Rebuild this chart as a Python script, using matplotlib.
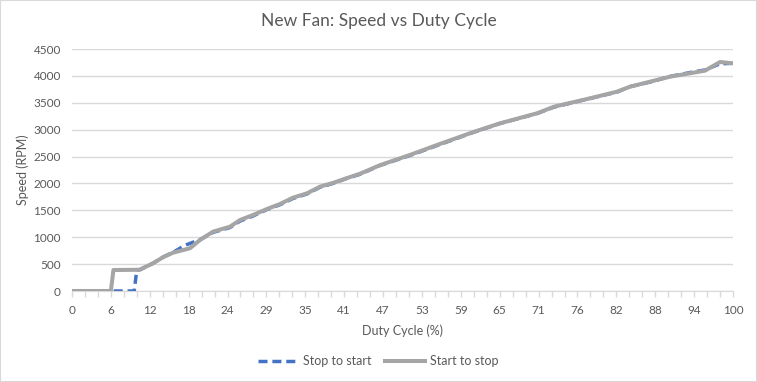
import matplotlib.pyplot as plt
from matplotlib.patches import Rectangle

# duty cycle (%) and fan speed (RPM)
stop_to_start_duty = [0, 9.41, 9.80, 10.3, 12.25, 13.77, 15.58, 17.10, 18.61, 19.36,
                      21.33, 23.90, 25.42, 27.38, 29.50, 31.47, 33.43, 35.55, 37.52,
                      39.49, 41.60, 43.57, 46.60, 51.13, 55.22, 60.82, 64.75, 70.35,
                      72.92, 78.37, 82.45, 84.42, 87.44, 90.47, 94.25, 95.76, 98.03, 100]
stop_to_start_rpm = [0, 0, 390, 395, 515, 630, 740, 850, 920, 955,
                     1090, 1180, 1300, 1395, 1515, 1605, 1720, 1805, 1930,
                     2000, 2095, 2170, 2335, 2520, 2705, 2955, 3115, 3300,
                     3420, 3580, 3700, 3800, 3885, 3990, 4080, 4110, 4225, 4234]

start_to_stop_duty = [0, 5.88, 6.27, 10.20, 12.25, 13.77, 15.28, 17.85, 19.36, 21.33,
                      23.90, 25.42, 27.38, 29.50, 31.47, 33.43, 35.55, 37.52, 39.49,
                      41.60, 43.57, 46.60, 51.13, 55.22, 60.82, 64.75, 70.35, 72.92,
                      78.37, 82.45, 84.42, 87.44, 90.47, 95.76, 98.03, 100]
start_to_stop_rpm = [0, 0, 390, 395, 515, 627, 712, 795, 948, 1103,
                     1196, 1320, 1413, 1525, 1618, 1735, 1816, 1940, 2010,
                     2100, 2180, 2340, 2530, 2715, 2960, 3118, 3304, 3427,
                     3583, 3706, 3799, 3892, 3985, 4097, 4258, 4234]

# category axis: 256 PWM steps, marks every 5, labels every 15
n_steps = 255
minor_pos = [100 * c / n_steps for c in range(0, n_steps + 1, 5)]
major_pos = [100 * c / n_steps for c in range(0, n_steps + 1, 15)]
major_lbl = [str(round(p)) for p in major_pos]

text_col = "#595959"
grid_col = "#D9D9D9"
plt.rcParams["font.family"] = ["Lato", "DejaVu Sans"]

fig = plt.figure(figsize=(7.57, 3.82), dpi=100)
ax = fig.add_axes([72 / 757, 1 - 291 / 382, 661 / 757, 242 / 382])

ax.plot(stop_to_start_duty, stop_to_start_rpm, color="#4472C4", lw=2.5,
        dashes=(2.6, 1.4), label="Stop to start", zorder=3)
ax.plot(start_to_stop_duty, start_to_stop_rpm, color="#A5A5A5", lw=2.9,
        label="Start to stop", zorder=4, solid_joinstyle="round")

ax.set_xlim(0, 100)
ax.set_ylim(0, 4500)
ax.set_yticks(range(0, 4501, 500))
ax.yaxis.grid(True, color=grid_col, lw=1)
ax.set_axisbelow(True)

ax.set_xticks(major_pos)
ax.set_xticklabels(major_lbl)
ax.set_xticks(minor_pos, minor=True)
ax.tick_params(axis="x", which="both", length=4, color=grid_col, width=1,
               labelcolor=text_col, labelsize=8.5, pad=6)
ax.tick_params(axis="y", length=0, labelcolor=text_col, labelsize=8.5, pad=8)

for s in ["top", "right", "left"]:
    ax.spines[s].set_visible(False)
ax.spines["bottom"].set_color(grid_col)

ax.set_xlabel("Duty Cycle (%)", color=text_col, fontsize=9, labelpad=6)
ax.set_ylabel("Speed (RPM)", color=text_col, fontsize=9, labelpad=3)
fig.suptitle("New Fan: Speed vs Duty Cycle", color=text_col, fontsize=12.5, y=0.965)

fig.legend(loc="lower center", bbox_to_anchor=(0.5, 0.01), ncol=2, frameon=False,
           fontsize=9, labelcolor=text_col, handlelength=3.2, handletextpad=0.4,
           columnspacing=1.1)

fig.patches.append(Rectangle((0, 0), 1, 1, transform=fig.transFigure, fill=False,
                             edgecolor=grid_col, lw=1.5))

fig.savefig("out.png", dpi=100)
